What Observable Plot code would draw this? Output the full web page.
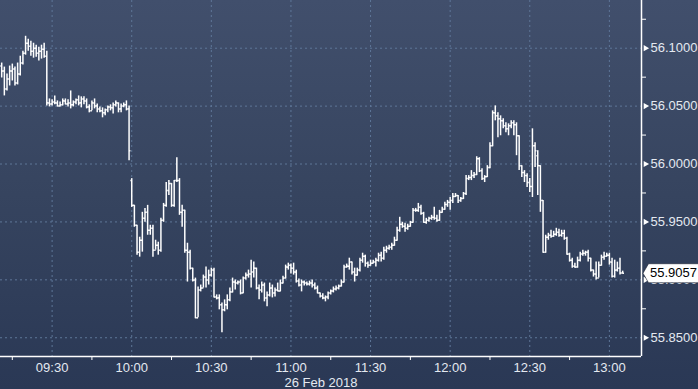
<!DOCTYPE html>
<html><head><meta charset="utf-8">
<script src="https://cdn.jsdelivr.net/npm/d3@7"></script>
<script src="https://cdn.jsdelivr.net/npm/@observablehq/plot@0.6"></script>
<style>
html,body{margin:0;padding:0;width:698px;height:389px;overflow:hidden;background:linear-gradient(#414f6c 0%,#36445f 50%,#2a3855 100%);}
#chart svg{display:block;}
</style></head><body><div id="chart"></div>
<script>
const day = "2018-02-26";
const firstBar = "09:11";
const open = [
 56.0846,56.0803,56.0648,56.0734,56.0803,56.0820,56.0700,56.0777,56.0872,56.0957,56.1043,56.1017,56.0974,56.1000,56.0957,56.0974,56.0991,56.0931,
 56.0528,56.0519,56.0536,56.0528,56.0502,56.0511,56.0545,56.0519,56.0528,56.0511,56.0536,56.0554,56.0528,56.0562,56.0545,56.0493,56.0459,56.0528,56.0502,56.0476,56.0459,56.0442,56.0468,56.0493,56.0485,56.0511,56.0528,56.0476,56.0502,56.0511,
 56.0476,55.9857,55.9643,55.9471,55.9239,55.9342,55.9531,55.9583,55.9428,55.9445,55.9256,55.9299,55.9256,55.9514,55.9643,55.9771,55.9831,55.9643,55.9857,55.9857,55.9583,55.9600,55.9256,55.9239,55.9101,55.8998,55.8672,55.8913,55.8929,55.9024,55.8998,55.9041,55.9084,55.8852,55.8844,55.8784,55.8741,55.8784,55.8827,55.8896,55.8981,55.8972,55.8981,55.8887,55.9015,55.9041,55.9050,55.9067,
 55.9101,55.8929,55.8913,55.8955,55.8844,55.8870,55.8929,55.8887,55.8913,55.8904,55.8972,55.9015,55.9110,55.9127,55.9101,55.9067,55.8989,55.8955,55.8981,55.8972,55.8964,55.8972,55.8955,55.8929,55.8887,55.8861,55.8844,55.8852,55.8887,55.8904,55.8921,55.8929,55.8946,55.8981,55.9110,55.9118,55.9153,55.9067,55.9041,55.9084,55.9170,55.9204,55.9144,55.9127,55.9144,55.9153,55.9170,
 55.9213,55.9187,55.9256,55.9273,55.9282,55.9299,55.9342,55.9428,55.9480,55.9462,55.9445,55.9462,55.9497,55.9600,55.9600,55.9626,55.9574,55.9497,55.9514,55.9531,55.9540,55.9531,55.9514,55.9583,55.9609,55.9651,55.9669,55.9686,55.9720,55.9728,55.9686,55.9703,55.9745,55.9874,55.9883,55.9900,55.9909,56.0046,55.9943,55.9874,55.9891,55.9969,56.0158,56.0442,56.0416,56.0390,56.0373,
 56.0330,56.0304,56.0330,56.0356,56.0339,56.0244,55.9986,55.9926,55.9900,55.9840,55.9806,56.0158,56.0072,55.9986,55.9686,55.9239,55.9368,55.9385,55.9376,55.9394,55.9411,55.9385,55.9402,55.9359,55.9222,55.9170,55.9118,55.9110,55.9170,55.9222,55.9230,55.9239,55.9187,55.9084,55.9050,55.9015,55.9127,55.9196,55.9204,55.9213,55.9153,55.9032,55.9084,55.9101,55.9058
];
const high = [
 56.0872,56.0837,56.0777,56.0846,56.0863,56.0837,56.0872,56.0931,56.0974,56.1103,56.1077,56.1060,56.1043,56.1026,56.1008,56.1026,56.1043,56.0974,
 56.0562,56.0554,56.0588,56.0545,56.0536,56.0562,56.0562,56.0554,56.0631,56.0545,56.0562,56.0588,56.0580,56.0580,56.0562,56.0511,56.0545,56.0562,56.0519,56.0493,56.0485,56.0476,56.0502,56.0511,56.0528,56.0545,56.0528,56.0519,56.0528,56.0545,
 56.0502,55.9874,55.9643,55.9471,55.9368,55.9583,55.9617,55.9643,55.9471,55.9471,55.9342,55.9325,55.9531,55.9660,55.9840,55.9857,55.9831,55.9857,56.0055,55.9874,55.9643,55.9600,55.9316,55.9256,55.9101,55.9015,55.8938,55.8955,55.9041,55.9110,55.9084,55.9101,55.9101,55.8870,55.8870,55.8801,55.8827,55.8870,55.8929,55.9015,55.8998,55.8989,55.8998,55.9024,55.9058,55.9084,55.9170,55.9153,
 55.9101,55.8955,55.8981,55.8972,55.8896,55.8972,55.8955,55.8929,55.8972,55.8998,55.9032,55.9127,55.9144,55.9136,55.9144,55.9084,55.9007,55.8998,55.8989,55.8981,55.8989,55.8998,55.8972,55.8946,55.8887,55.8879,55.8861,55.8896,55.8913,55.8938,55.8946,55.8955,55.8998,55.9127,55.9136,55.9187,55.9153,55.9101,55.9101,55.9187,55.9230,55.9213,55.9153,55.9170,55.9170,55.9187,55.9230,
 55.9239,55.9282,55.9290,55.9299,55.9316,55.9368,55.9454,55.9540,55.9497,55.9488,55.9480,55.9505,55.9617,55.9617,55.9660,55.9643,55.9583,55.9531,55.9540,55.9557,55.9626,55.9557,55.9600,55.9626,55.9669,55.9686,55.9711,55.9745,55.9745,55.9728,55.9711,55.9754,55.9900,55.9900,55.9943,55.9926,56.0063,56.0055,55.9960,55.9900,55.9986,56.0184,56.0459,56.0502,56.0442,56.0416,56.0390,
 56.0356,56.0347,56.0373,56.0373,56.0356,56.0244,55.9986,55.9943,55.9917,55.9874,56.0304,56.0184,56.0115,55.9986,55.9686,55.9385,55.9402,55.9428,55.9419,55.9445,55.9437,55.9428,55.9428,55.9368,55.9230,55.9187,55.9144,55.9196,55.9239,55.9256,55.9247,55.9256,55.9187,55.9084,55.9153,55.9153,55.9213,55.9239,55.9230,55.9230,55.9187,55.9170,55.9153,55.9187,55.9075
];
const low = [
 56.0743,56.0588,56.0631,56.0674,56.0717,56.0674,56.0683,56.0760,56.0855,56.0940,56.0974,56.0931,56.0914,56.0923,56.0889,56.0906,56.0914,56.0502,
 56.0493,56.0502,56.0511,56.0493,56.0493,56.0502,56.0511,56.0493,56.0476,56.0493,56.0511,56.0502,56.0485,56.0511,56.0476,56.0442,56.0459,56.0476,56.0442,56.0442,56.0399,56.0416,56.0442,56.0459,56.0433,56.0493,56.0442,56.0442,56.0485,56.0459,
 56.0029,55.9625,55.9454,55.9213,55.9196,55.9239,55.9497,55.9385,55.9385,55.9196,55.9256,55.9213,55.9239,55.9497,55.9626,55.9728,55.9626,55.9626,55.9840,55.9557,55.9454,55.9230,55.8981,55.9084,55.8981,55.8664,55.8672,55.8896,55.8929,55.8929,55.8955,55.9024,55.8844,55.8827,55.8741,55.8543,55.8724,55.8741,55.8810,55.8887,55.8913,55.8955,55.8870,55.8879,55.8998,55.9015,55.8929,55.9015,
 55.8913,55.8827,55.8887,55.8810,55.8767,55.8852,55.8844,55.8852,55.8896,55.8896,55.8964,55.9007,55.9084,55.9050,55.9041,55.8972,55.8938,55.8896,55.8946,55.8946,55.8946,55.8929,55.8913,55.8879,55.8844,55.8827,55.8810,55.8827,55.8870,55.8887,55.8904,55.8913,55.8938,55.8972,55.9101,55.9084,55.9041,55.8981,55.9032,55.9067,55.9144,55.9110,55.9101,55.9118,55.9136,55.9110,55.9153,
 55.9153,55.9170,55.9230,55.9256,55.9256,55.9290,55.9333,55.9411,55.9445,55.9411,55.9428,55.9454,55.9488,55.9583,55.9583,55.9557,55.9488,55.9480,55.9497,55.9514,55.9514,55.9497,55.9505,55.9574,55.9600,55.9626,55.9600,55.9660,55.9711,55.9660,55.9669,55.9694,55.9728,55.9857,55.9857,55.9874,55.9900,55.9926,55.9857,55.9840,55.9883,55.9960,56.0149,56.0373,56.0227,56.0244,56.0304,
 56.0270,56.0244,56.0304,56.0244,56.0072,55.9943,55.9883,55.9840,55.9797,55.9754,55.9711,55.9969,55.9728,55.9583,55.9230,55.9230,55.9342,55.9359,55.9368,55.9376,55.9368,55.9368,55.9342,55.9213,55.9153,55.9101,55.9101,55.9101,55.9153,55.9204,55.9204,55.9153,55.9067,55.9024,55.8998,55.9015,55.9118,55.9170,55.9196,55.9127,55.9015,55.9015,55.9067,55.9041,55.9050
];
const close = [
 56.0803,56.0648,56.0734,56.0803,56.0820,56.0700,56.0777,56.0872,56.0957,56.1043,56.1017,56.0974,56.1000,56.0957,56.0974,56.0991,56.0931,56.0528,
 56.0519,56.0536,56.0528,56.0502,56.0511,56.0545,56.0519,56.0528,56.0511,56.0536,56.0554,56.0528,56.0562,56.0545,56.0493,56.0459,56.0528,56.0502,56.0476,56.0459,56.0442,56.0468,56.0493,56.0485,56.0511,56.0528,56.0476,56.0502,56.0511,56.0476,
 56.0115,55.9643,55.9471,55.9239,55.9342,55.9531,55.9583,55.9428,55.9445,55.9256,55.9299,55.9256,55.9514,55.9643,55.9771,55.9831,55.9643,55.9857,55.9857,55.9583,55.9600,55.9256,55.9239,55.9101,55.8998,55.8672,55.8913,55.8929,55.9024,55.8998,55.9041,55.9084,55.8852,55.8844,55.8784,55.8741,55.8784,55.8827,55.8896,55.8981,55.8972,55.8981,55.8887,55.9015,55.9041,55.9050,55.9067,55.9101,
 55.8929,55.8913,55.8955,55.8844,55.8870,55.8929,55.8887,55.8913,55.8904,55.8972,55.9015,55.9110,55.9127,55.9101,55.9067,55.8989,55.8955,55.8981,55.8972,55.8964,55.8972,55.8955,55.8929,55.8887,55.8861,55.8844,55.8852,55.8887,55.8904,55.8921,55.8929,55.8946,55.8981,55.9110,55.9118,55.9153,55.9067,55.9041,55.9084,55.9170,55.9204,55.9144,55.9127,55.9144,55.9153,55.9170,55.9213,
 55.9187,55.9256,55.9273,55.9282,55.9299,55.9342,55.9428,55.9480,55.9462,55.9445,55.9462,55.9497,55.9600,55.9600,55.9626,55.9574,55.9497,55.9514,55.9531,55.9540,55.9531,55.9514,55.9583,55.9609,55.9651,55.9669,55.9686,55.9720,55.9728,55.9686,55.9703,55.9745,55.9874,55.9883,55.9900,55.9909,56.0046,55.9943,55.9874,55.9891,55.9969,56.0158,56.0442,56.0416,56.0390,56.0373,56.0330,
 56.0304,56.0330,56.0356,56.0339,56.0244,55.9986,55.9926,55.9900,55.9840,55.9806,56.0158,56.0115,55.9986,55.9686,55.9239,55.9368,55.9385,55.9376,55.9394,55.9411,55.9385,55.9402,55.9359,55.9222,55.9170,55.9118,55.9110,55.9170,55.9222,55.9230,55.9239,55.9187,55.9084,55.9050,55.9015,55.9127,55.9196,55.9204,55.9213,55.9153,55.9032,55.9084,55.9101,55.9058,55.9057
];
const yTicks = [55.85, 55.90, 55.95, 56.00, 56.05, 56.10];
const yMinorTicks = [55.875, 55.925, 55.975, 56.025, 56.075, 56.125];
const xTickLabels = ["09:30","10:00","10:30","11:00","11:30","12:00","12:30","13:00"];
const xMinorTicks = ["09:15","09:45","10:15","10:45","11:15","11:45","12:15","12:45"];
const xDomain = ["09:10:33", "13:12:06"];
const yDomain = [55.8338, 56.1412];
const dateLabel = "26 Feb 2018";
const lastPrice = [55.9057];

const parseHM = s => d3.utcParse("%Y-%m-%d %H:%M:%S")(day + " " + (s.length === 5 ? s + ":00" : s));
const t0 = +parseHM(firstBar);
const bars = open.map((o, i) => ({t: new Date(t0 + i * 60000), o, h: high[i], l: low[i], c: close[i]}));
const half = 30000;
const xTicks = xTickLabels.map(parseHM);
const xMinor = xMinorTicks.map(parseHM);
const xd = xDomain.map(parseHM);
const txt = "#e4e9f1";
const grid = "#5e7698";
const font = "'Liberation Sans', Arial, sans-serif";

// tag shape for the last-price marker (arrow pointing at the axis)
const tagSymbol = {
  draw(ctx) {
    ctx.moveTo(0, 0);
    ctx.lineTo(5.5, -9.5);
    ctx.lineTo(56, -9.5);
    ctx.lineTo(56, 9.5);
    ctx.lineTo(5.5, 9.5);
    ctx.closePath();
  }
};

const chart = Plot.plot({
  width: 698, height: 389,
  marginLeft: 0, marginRight: 57, marginTop: 0, marginBottom: 33,
  style: {background: "none", fontFamily: font, fontSize: "13px", overflow: "visible"},
  x: {type: "utc", domain: xd},
  y: {domain: yDomain},
  marks: [
    Plot.ruleY(yTicks, {stroke: grid, strokeDasharray: "2,3", strokeWidth: 1}),
    Plot.ruleX(xTicks, {stroke: grid, strokeDasharray: "2,3", strokeWidth: 1}),
    Plot.ruleX(bars, {x: "t", y1: "l", y2: "h", stroke: "white", strokeWidth: 1.5}),
    Plot.link(bars, {x1: d => new Date(+d.t - half), x2: "t", y1: "o", y2: "o", stroke: "white", strokeWidth: 1.5}),
    Plot.link(bars, {x1: "t", x2: d => new Date(+d.t + half), y1: "c", y2: "c", stroke: "white", strokeWidth: 1.5}),
    Plot.axisX(xTicks, {tickSize: 0, tickPadding: 6, tickFormat: d3.utcFormat("%H:%M"), fill: txt, fontSize: 13, label: null}),
    Plot.axisX(xMinor, {tickSize: 4, tickFormat: () => "", stroke: "white", label: null}),
    Plot.axisY(yTicks, {anchor: "right", tickSize: 0, tickPadding: 9, tickFormat: d => d.toFixed(4), fill: txt, fontSize: 13, label: null}),
    Plot.axisY(yMinorTicks, {anchor: "right", tickSize: 4, tickFormat: () => "", stroke: "white", label: null}),
    Plot.dot(yTicks, {x: () => xd[1], y: d => d, symbol: "triangle", rotate: 90, r: 2.3, fill: "white", stroke: null, dx: 4}),
    Plot.ruleX([xd[1]], {stroke: "white", strokeWidth: 1.5}),
    Plot.ruleY([yDomain[0]], {stroke: "white", strokeWidth: 1.5}),
    Plot.text([dateLabel], {frameAnchor: "bottom", dy: 26, fill: txt, fontSize: 13, lineAnchor: "middle"}),
    Plot.dot(lastPrice, {x: () => xd[1], y: d => d, symbol: tagSymbol, fill: "white", stroke: "#1b2233", strokeWidth: 0.6, dx: 1.5}),
    Plot.text(lastPrice, {x: () => xd[1], y: d => d, text: d => d.toFixed(4), dx: 8.5, textAnchor: "start", fill: "black", fontSize: 13})
  ]
});
document.getElementById("chart").appendChild(chart);
</script></body></html>
